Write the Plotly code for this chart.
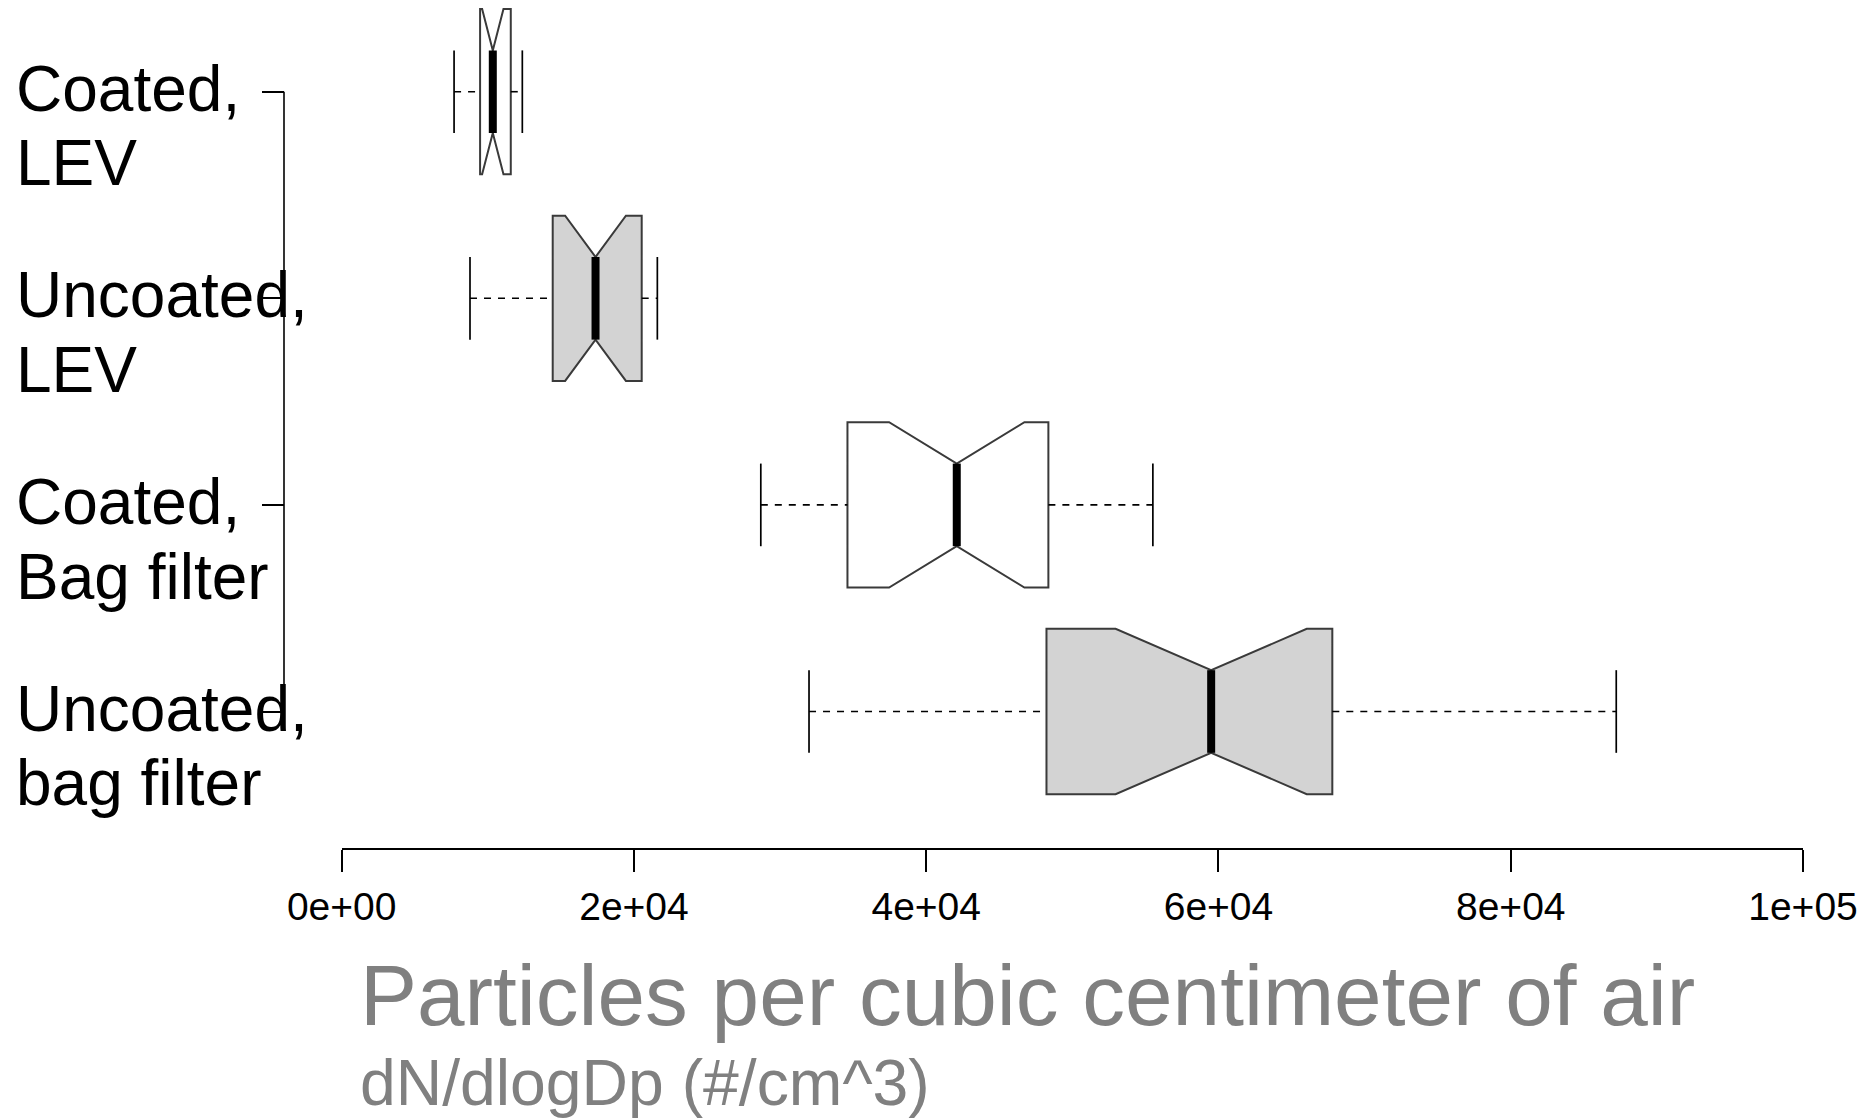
import plotly.graph_objects as go

# ---------------- data ----------------
categories = ["Coated,\nLEV", "Uncoated,\nLEV", "Coated,\nBag filter", "Uncoated,\nbag filter"]
coating = ["Coated", "Uncoated", "Coated", "Uncoated"]
lower_whisker = [7690, 8780, 28680, 31980]
q1_values = [9470, 14440, 34610, 48230]
median_values = [10340, 17370, 42090, 59500]
q3_values = [11570, 20530, 48360, 67790]
upper_whisker = [12360, 21600, 55510, 87220]
notch_half = [730, 2080, 4630, 6540]
x_tick_values = [0, 20000, 40000, 60000, 80000, 100000]
x_tick_labels = ["0e+00", "2e+04", "4e+04", "6e+04", "8e+04", "1e+05"]
x_title = "Particles per cubic centimeter of air"
x_subtitle = "dN/dlogDp (#/cm^3)"

# ---------------- styling ----------------
FONT = "Liberation Sans, Arial, Helvetica, sans-serif"
fill_map = {"Coated": "white", "Uncoated": "#d3d3d3"}
BOX_LINE = "#3a3a3a"
W, H = 1873, 1118
ML, MR, MT, MB = 284, 70, 0, 270
plot_w = W - ML - MR
x_dom0 = (341.7 - ML) / plot_w
HALF = 0.4      # box half-width in row units
STAPLE = 0.2    # staple half-length
MED = 0.2       # median half-length (notch inner)

positions = list(range(len(categories)))

fig = go.Figure()

for grp in ["Coated", "Uncoated"]:
    idx = [i for i, c in enumerate(coating) if c == grp]
    fig.add_trace(go.Box(
        orientation="h",
        y=[positions[i] for i in idx],
        q1=[q1_values[i] for i in idx],
        median=[median_values[i] for i in idx],
        q3=[q3_values[i] for i in idx],
        lowerfence=[q1_values[i] for i in idx],
        upperfence=[q3_values[i] for i in idx],
        notchspan=[notch_half[i] for i in idx],
        notched=True,
        notchwidth=0.25,
        width=2 * HALF,
        whiskerwidth=0,
        boxpoints=False,
        fillcolor=fill_map[grp],
        line=dict(color=BOX_LINE, width=2),
        hoverinfo="skip",
        showlegend=False,
    ))

# dashed whiskers
wx, wy = [], []
for i, p in enumerate(positions):
    wx += [lower_whisker[i], q1_values[i], None, q3_values[i], upper_whisker[i], None]
    wy += [p, p, None, p, p, None]
fig.add_trace(go.Scatter(x=wx, y=wy, mode="lines",
                         line=dict(color="black", width=1.6, dash="7px,7px"),
                         hoverinfo="skip", showlegend=False))

# staples
sx, sy = [], []
for i, p in enumerate(positions):
    for v in (lower_whisker[i], upper_whisker[i]):
        sx += [v, v, None]
        sy += [p - STAPLE, p + STAPLE, None]
fig.add_trace(go.Scatter(x=sx, y=sy, mode="lines",
                         line=dict(color="black", width=1.7),
                         hoverinfo="skip", showlegend=False))

# thick medians
mx, my = [], []
for i, p in enumerate(positions):
    mx += [median_values[i], median_values[i], None]
    my += [p - MED, p + MED, None]
fig.add_trace(go.Scatter(x=mx, y=my, mode="lines",
                         line=dict(color="black", width=8),
                         hoverinfo="skip", showlegend=False))

# y axis line only between first and last tick (R style)
fig.add_shape(type="line", xref="paper", yref="y", x0=0, x1=0,
              y0=positions[0], y1=positions[-1],
              line=dict(color="black", width=1.6))

annotations = []
# category labels, left aligned, one annotation per line
LABEL_SIZE = 64
LINE_STEP = 74.6
for i, p in enumerate(positions):
    for k, line in enumerate(categories[i].split("\n")):
        annotations.append(dict(
            text=line, x=0, xref="paper", y=p, yref="y",
            xanchor="left", yanchor="middle", showarrow=False,
            xshift=14 - ML, yshift=3 - k * LINE_STEP,
            font=dict(family=FONT, size=LABEL_SIZE, color="black"),
        ))
# x title and subtitle
annotations.append(dict(
    text=x_title, x=0, xref="paper", y=0, yref="paper",
    xanchor="left", yanchor="middle", showarrow=False,
    xshift=358 - ML, yshift=-(995 - 848),
    font=dict(family=FONT, size=85.5, color="#808080"),
))
annotations.append(dict(
    text=x_subtitle, x=0, xref="paper", y=0, yref="paper",
    xanchor="left", yanchor="middle", showarrow=False,
    xshift=358 - ML, yshift=-(1083 - 848),
    font=dict(family=FONT, size=64.3, color="#808080"),
))

fig.update_layout(
    width=W, height=H,
    margin=dict(l=ML, r=MR, t=MT, b=MB, pad=0),
    paper_bgcolor="white", plot_bgcolor="white",
    boxmode="overlay",
    showlegend=False,
    annotations=annotations,
    xaxis=dict(
        domain=[x_dom0, 1], range=[0, 100000],
        tickmode="array", tickvals=x_tick_values, ticktext=x_tick_labels,
        ticks="outside", ticklen=22, tickwidth=1.6, tickcolor="black",
        showline=True, linecolor="black", linewidth=1.6,
        showgrid=False, zeroline=False,
        tickfont=dict(family=FONT, size=39, color="black"),
        ticklabelstandoff=1,
    ),
    yaxis=dict(
        anchor="free", position=0,
        range=[3.6607, -0.4439],
        tickmode="array", tickvals=positions,
        ticks="outside", ticklen=22, tickwidth=1.6, tickcolor="black",
        showticklabels=False, showline=False,
        showgrid=False, zeroline=False,
    ),
)

fig.write_html("out.html")
